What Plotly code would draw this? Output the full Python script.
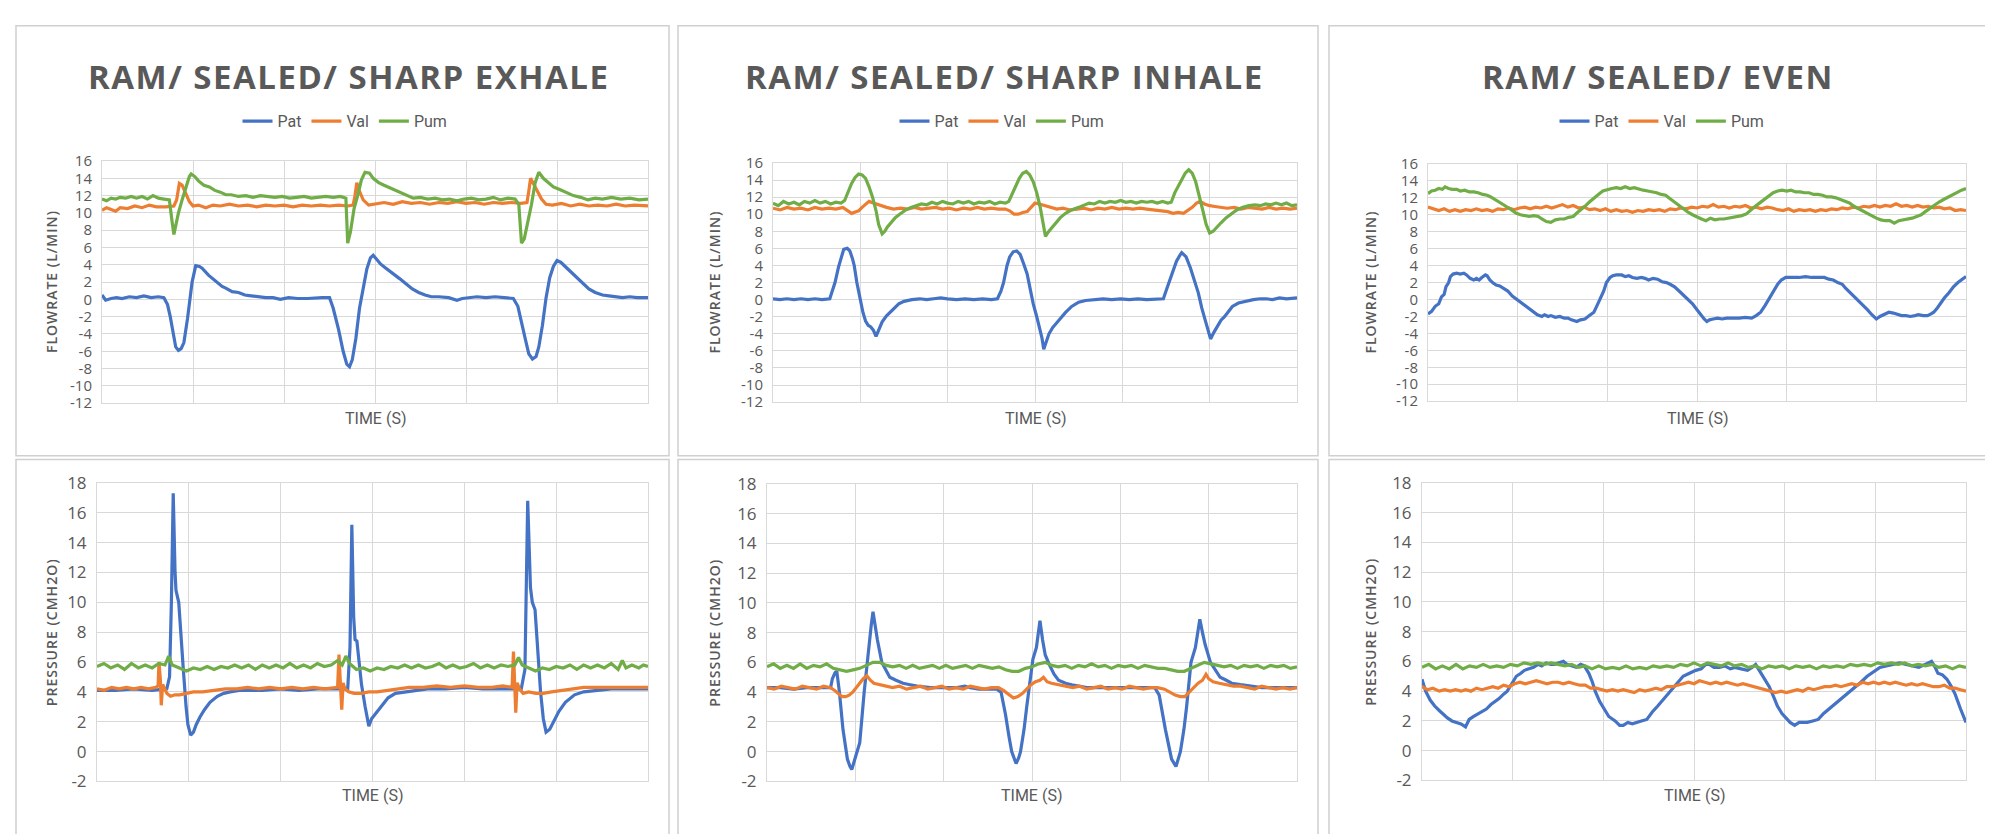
import plotly.graph_objects as go

# ---------------- data (time in grid units) ----------------
SERIES_NAMES = ["Pat", "Val", "Pum"]
SERIES_COLORS = ["#4472C4", "#ED7D31", "#70AD47"]
TITLES = ["RAM/ SEALED/ SHARP EXHALE", "RAM/ SEALED/ SHARP INHALE", "RAM/ SEALED/ EVEN"]
FLOW_TICKS = list(range(-12, 17, 2))
PRES_TICKS = list(range(-2, 19, 2))

# --- Sharp exhale: flow ---
PAT_F1 = [(0,0.5),(0.04,-0.1),(0.1,0.1),(0.16,0.2),(0.22,0.1),(0.3,0.3),(0.38,0.2),(0.46,0.4),(0.54,0.2),(0.62,0.3),(0.68,0.2),(0.72,-0.6),(0.75,-2.0),(0.78,-4.0),(0.81,-5.5),(0.84,-5.9),(0.87,-5.7),(0.9,-5.0),(0.94,-2.2),(0.99,2.0),(1.03,3.9),(1.07,3.8),(1.1,3.6),(1.17,2.8),(1.22,2.4),(1.27,2.0),(1.32,1.5),(1.36,1.3),(1.43,0.9),(1.5,0.8),(1.57,0.5),(1.64,0.4),(1.72,0.3),(1.8,0.2),(1.88,0.2),(1.96,0.0),(2.05,0.2),(2.15,0.1),(2.26,0.1),(2.35,0.2),(2.42,0.2),(2.5,0.2),(2.54,-1.0),(2.6,-3.5),(2.65,-6.0),(2.69,-7.5),(2.72,-7.8),(2.75,-7.0),(2.79,-4.5),(2.83,-1.0),(2.87,1.5),(2.91,3.5),(2.95,4.8),(2.98,5.1),(3.02,4.6),(3.06,4.1),(3.12,3.6),(3.2,3.0),(3.27,2.4),(3.34,1.8),(3.41,1.2),(3.48,0.8),(3.55,0.5),(3.62,0.3),(3.7,0.3),(3.81,0.2),(3.9,-0.1),(3.96,0.1),(4.03,0.2),(4.12,0.3),(4.22,0.2),(4.32,0.3),(4.42,0.2),(4.52,0.1),(4.57,-0.8),(4.61,-2.5),(4.65,-4.5),(4.69,-6.3),(4.73,-6.9),(4.77,-6.6),(4.8,-5.5),(4.84,-3.0),(4.88,0.2),(4.92,2.5),(4.96,3.8),(5.0,4.5),(5.04,4.3),(5.09,3.8),(5.15,3.2),(5.21,2.5),(5.28,1.8),(5.35,1.2),(5.42,0.8),(5.5,0.5),(5.57,0.4),(5.64,0.3),(5.72,0.2),(5.8,0.3),(5.88,0.2),(6.0,0.2)]
VAL_F1 = [(0,10.3),(0.05,10.6),(0.1,10.4),(0.15,10.2),(0.2,10.6),(0.28,10.5),(0.36,10.8),(0.44,10.6),(0.52,10.9),(0.6,10.7),(0.7,10.7),(0.79,10.8),(0.82,11.5),(0.85,13.4),(0.88,13.2),(0.92,12.2),(0.96,11.3),(1.0,10.8),(1.06,10.9),(1.14,10.6),(1.22,10.9),(1.3,10.8),(1.4,11.0),(1.5,10.8),(1.6,10.9),(1.7,10.7),(1.8,10.9),(1.9,10.8),(2.0,10.9),(2.1,10.7),(2.2,10.9),(2.3,10.8),(2.4,10.9),(2.5,10.8),(2.6,10.9),(2.7,10.8),(2.76,10.9),(2.78,12.0),(2.8,13.5),(2.83,12.5),(2.87,11.5),(2.93,10.9),(3.0,11.0),(3.1,11.2),(3.2,11.0),(3.3,11.3),(3.4,11.1),(3.5,11.2),(3.6,11.0),(3.7,11.2),(3.8,11.1),(3.9,11.3),(4.0,11.1),(4.1,11.2),(4.2,11.0),(4.3,11.2),(4.4,11.1),(4.5,11.2),(4.6,11.1),(4.67,11.2),(4.69,12.5),(4.71,14.0),(4.74,13.4),(4.78,12.6),(4.83,11.6),(4.88,11.0),(4.95,10.9),(5.05,11.1),(5.15,10.8),(5.25,11.0),(5.35,10.8),(5.45,10.9),(5.55,10.8),(5.65,11.0),(5.75,10.8),(5.85,10.9),(6.0,10.8)]
PUM_F1 = [(0,11.6),(0.05,11.4),(0.1,11.7),(0.15,11.6),(0.2,11.8),(0.26,11.7),(0.32,11.9),(0.38,11.7),(0.44,11.9),(0.5,11.6),(0.56,12.0),(0.62,11.7),(0.68,11.6),(0.74,11.5),(0.77,9.0),(0.79,7.5),(0.81,8.5),(0.84,10.0),(0.88,11.5),(0.92,12.8),(0.96,14.2),(0.98,14.5),(1.02,14.2),(1.06,13.7),(1.12,13.2),(1.18,13.0),(1.24,12.6),(1.3,12.4),(1.36,12.1),(1.42,12.1),(1.5,11.9),(1.58,12.0),(1.66,11.8),(1.74,12.0),(1.82,11.9),(1.9,11.8),(1.98,11.9),(2.06,11.7),(2.14,11.8),(2.22,11.9),(2.3,11.7),(2.38,11.8),(2.46,11.9),(2.54,11.8),(2.62,11.9),(2.68,11.7),(2.7,6.5),(2.73,7.8),(2.77,10.5),(2.81,12.0),(2.85,13.8),(2.89,14.7),(2.94,14.6),(2.98,14.0),(3.04,13.5),(3.1,13.2),(3.18,12.8),(3.26,12.4),(3.34,12.0),(3.42,11.7),(3.5,11.8),(3.58,11.6),(3.66,11.7),(3.74,11.5),(3.82,11.6),(3.9,11.4),(3.98,11.6),(4.06,11.7),(4.14,11.5),(4.22,11.6),(4.3,11.8),(4.38,11.5),(4.46,11.7),(4.54,11.6),(4.58,11.0),(4.61,6.5),(4.64,7.0),(4.68,9.0),(4.72,11.0),(4.76,13.5),(4.8,14.7),(4.85,14.0),(4.9,13.5),(4.96,13.0),(5.03,12.7),(5.1,12.4),(5.18,12.0),(5.26,11.8),(5.34,11.5),(5.42,11.7),(5.5,11.6),(5.6,11.8),(5.7,11.6),(5.8,11.7),(5.9,11.5),(6.0,11.6)]

# --- Sharp exhale: pressure ---
PAT_P1 = [(0,4.1),(0.2,4.1),(0.4,4.2),(0.6,4.1),(0.76,4.2),(0.79,5.0),(0.81,10.0),(0.83,17.3),(0.85,12.0),(0.86,10.8),(0.89,10.0),(0.91,8.0),(0.94,5.5),(0.97,3.0),(0.99,1.8),(1.02,1.1),(1.05,1.3),(1.08,1.8),(1.12,2.3),(1.17,2.8),(1.23,3.3),(1.31,3.7),(1.38,3.9),(1.45,4.0),(1.55,4.1),(1.64,4.1),(1.8,4.1),(2.0,4.2),(2.2,4.1),(2.4,4.2),(2.6,4.2),(2.73,4.2),(2.755,7.0),(2.775,15.2),(2.795,9.0),(2.81,7.5),(2.83,7.4),(2.85,6.0),(2.88,4.5),(2.92,3.0),(2.96,1.7),(2.99,2.2),(3.04,2.6),(3.1,3.1),(3.17,3.6),(3.25,3.9),(3.35,4.0),(3.45,4.1),(3.6,4.2),(3.8,4.2),(4.0,4.3),(4.2,4.2),(4.4,4.2),(4.62,4.2),(4.66,5.5),(4.69,16.8),(4.72,11.0),(4.74,10.0),(4.77,9.5),(4.8,6.5),(4.83,4.0),(4.86,2.2),(4.89,1.3),(4.93,1.5),(4.97,2.0),(5.03,2.7),(5.1,3.3),(5.2,3.8),(5.3,4.0),(5.45,4.1),(5.6,4.2),(5.8,4.2),(6.0,4.2)]
VAL_P1 = [(0,4.2),(0.08,4.1),(0.16,4.3),(0.24,4.2),(0.32,4.3),(0.4,4.2),(0.48,4.3),(0.56,4.2),(0.64,4.3),(0.665,4.4),(0.675,6.0),(0.69,4.8),(0.7,3.1),(0.715,4.5),(0.73,4.3),(0.76,3.9),(0.8,3.7),(0.85,3.8),(0.9,3.8),(0.97,3.9),(1.05,4.0),(1.15,4.0),(1.27,4.1),(1.4,4.2),(1.52,4.2),(1.64,4.3),(1.76,4.2),(1.88,4.3),(2.0,4.2),(2.12,4.3),(2.24,4.2),(2.36,4.3),(2.48,4.2),(2.62,4.3),(2.635,6.5),(2.65,5.0),(2.665,2.8),(2.68,4.6),(2.7,4.2),(2.74,4.0),(2.8,3.9),(2.88,3.9),(2.96,4.0),(3.05,4.0),(3.15,4.1),(3.25,4.2),(3.4,4.3),(3.55,4.3),(3.7,4.4),(3.85,4.3),(4.0,4.4),(4.15,4.3),(4.3,4.3),(4.42,4.4),(4.52,4.3),(4.535,6.7),(4.55,4.5),(4.56,2.6),(4.575,4.6),(4.6,4.2),(4.64,3.9),(4.7,4.0),(4.78,3.9),(4.86,3.9),(4.95,4.0),(5.05,4.1),(5.15,4.2),(5.3,4.3),(5.45,4.3),(5.6,4.3),(5.75,4.3),(5.9,4.3),(6.0,4.3)]
PUM_P1 = [(0,5.7),(0.075,5.9),(0.15,5.6),(0.225,5.8),(0.3,5.5),(0.375,5.9),(0.45,5.6),(0.525,5.8),(0.6,5.6),(0.675,5.9),(0.74,5.8),(0.78,6.4),(0.82,5.8),(0.9,5.6),(0.975,5.4),(1.05,5.6),(1.125,5.5),(1.2,5.7),(1.275,5.5),(1.35,5.7),(1.425,5.6),(1.5,5.8),(1.575,5.6),(1.65,5.8),(1.725,5.5),(1.8,5.8),(1.875,5.6),(1.95,5.8),(2.025,5.6),(2.1,5.9),(2.175,5.6),(2.25,5.8),(2.325,5.6),(2.4,5.9),(2.475,5.7),(2.55,5.8),(2.62,6.1),(2.67,5.8),(2.71,6.4),(2.75,5.9),(2.825,5.5),(2.9,5.6),(2.975,5.4),(3.05,5.6),(3.125,5.5),(3.2,5.7),(3.275,5.6),(3.35,5.8),(3.425,5.6),(3.5,5.8),(3.575,5.6),(3.65,5.7),(3.725,5.9),(3.8,5.6),(3.875,5.8),(3.95,5.6),(4.025,5.7),(4.1,5.9),(4.175,5.6),(4.25,5.8),(4.325,5.6),(4.4,5.8),(4.475,5.7),(4.55,5.8),(4.59,6.3),(4.63,5.8),(4.7,5.6),(4.775,5.4),(4.85,5.6),(4.925,5.5),(5.0,5.7),(5.075,5.6),(5.15,5.8),(5.225,5.5),(5.3,5.8),(5.375,5.6),(5.45,5.8),(5.525,5.6),(5.6,5.9),(5.675,5.5),(5.72,6.1),(5.76,5.6),(5.825,5.8),(5.9,5.6),(5.95,5.8),(6.0,5.7)]

# --- Sharp inhale: flow ---
PAT_F2 = [(0,0.1),(0.08,0.0),(0.16,0.1),(0.24,0.0),(0.32,0.1),(0.4,0.0),(0.48,0.1),(0.56,0.0),(0.65,0.1),(0.68,1.0),(0.71,2.0),(0.75,3.8),(0.78,5.0),(0.81,5.9),(0.85,6.0),(0.88,5.7),(0.91,4.8),(0.93,4.0),(0.96,2.0),(1.0,0.0),(1.03,-1.5),(1.06,-2.5),(1.09,-3.0),(1.12,-3.2),(1.15,-3.6),(1.18,-4.3),(1.21,-3.5),(1.25,-2.6),(1.3,-1.9),(1.34,-1.5),(1.39,-0.9),(1.44,-0.5),(1.5,-0.2),(1.59,0.0),(1.68,0.1),(1.76,0.0),(1.84,0.1),(1.92,0.2),(2.0,0.1),(2.1,0.0),(2.2,0.1),(2.3,0.0),(2.4,0.1),(2.5,0.0),(2.57,0.1),(2.61,1.0),(2.64,2.0),(2.68,4.0),(2.71,5.0),(2.75,5.6),(2.79,5.7),(2.83,5.3),(2.87,4.2),(2.91,3.0),(2.95,1.0),(2.98,-0.5),(3.02,-2.0),(3.06,-3.5),(3.08,-4.5),(3.1,-5.8),(3.13,-4.8),(3.16,-4.0),(3.2,-3.3),(3.25,-2.7),(3.3,-2.1),(3.35,-1.5),(3.42,-0.8),(3.5,-0.3),(3.58,-0.1),(3.69,0.0),(3.78,0.1),(3.88,0.0),(3.98,0.1),(4.08,0.0),(4.18,0.1),(4.28,0.0),(4.38,0.1),(4.47,0.1),(4.51,1.3),(4.55,2.5),(4.59,3.6),(4.62,4.5),(4.66,5.2),(4.68,5.5),(4.71,5.2),(4.73,5.0),(4.78,3.7),(4.82,2.5),(4.87,0.8),(4.91,-1.0),(4.95,-2.5),(4.98,-3.5),(5.01,-4.6),(5.05,-3.8),(5.09,-3.0),(5.13,-2.4),(5.17,-2.0),(5.22,-1.3),(5.26,-0.8),(5.33,-0.4),(5.41,-0.2),(5.5,0.0),(5.58,0.1),(5.65,0.1),(5.72,0.0),(5.8,0.2),(5.88,0.1),(6.0,0.2)]
VAL_F2 = [(0,10.7),(0.08,10.5),(0.16,10.8),(0.24,10.6),(0.32,10.7),(0.4,10.5),(0.48,10.8),(0.56,10.6),(0.64,10.7),(0.72,10.6),(0.8,10.8),(0.85,10.4),(0.9,10.1),(0.95,10.3),(0.98,10.4),(1.02,10.8),(1.06,11.2),(1.1,11.5),(1.15,11.3),(1.2,11.1),(1.25,11.0),(1.3,10.8),(1.38,10.6),(1.46,10.7),(1.54,10.6),(1.62,10.8),(1.7,10.6),(1.78,10.7),(1.86,10.8),(1.94,10.6),(2.02,10.7),(2.1,10.5),(2.18,10.7),(2.26,10.6),(2.34,10.8),(2.42,10.6),(2.5,10.7),(2.58,10.6),(2.66,10.6),(2.71,10.4),(2.76,10.0),(2.81,10.0),(2.86,10.2),(2.91,10.3),(2.96,10.8),(3.0,11.3),(3.05,11.2),(3.11,11.0),(3.18,10.8),(3.25,10.6),(3.32,10.7),(3.4,10.5),(3.48,10.6),(3.56,10.7),(3.64,10.5),(3.72,10.7),(3.8,10.6),(3.88,10.8),(3.96,10.6),(4.04,10.7),(4.12,10.6),(4.2,10.7),(4.28,10.6),(4.36,10.5),(4.44,10.4),(4.52,10.3),(4.58,10.1),(4.64,10.2),(4.7,10.1),(4.75,10.4),(4.8,10.8),(4.85,11.3),(4.89,11.5),(4.94,11.2),(5.0,11.0),(5.06,10.9),(5.12,10.8),(5.2,10.7),(5.28,10.8),(5.36,10.6),(5.44,10.8),(5.52,10.7),(5.6,10.6),(5.68,10.8),(5.76,10.6),(5.84,10.7),(5.92,10.6),(6.0,10.7)]
PUM_F2 = [(0,11.3),(0.06,11.0),(0.12,11.5),(0.18,11.2),(0.24,11.4),(0.3,11.1),(0.36,11.5),(0.42,11.3),(0.48,11.6),(0.54,11.3),(0.6,11.5),(0.66,11.2),(0.72,11.4),(0.78,11.3),(0.82,11.6),(0.86,12.6),(0.9,13.6),(0.94,14.3),(0.98,14.7),(1.02,14.6),(1.06,14.2),(1.1,13.2),(1.14,12.0),(1.18,10.4),(1.21,8.8),(1.25,7.7),(1.28,8.0),(1.31,8.5),(1.35,9.0),(1.4,9.6),(1.45,10.0),(1.52,10.5),(1.58,10.8),(1.64,11.0),(1.7,11.2),(1.76,11.1),(1.82,11.4),(1.88,11.2),(1.94,11.5),(2.0,11.3),(2.06,11.2),(2.12,11.5),(2.18,11.3),(2.24,11.5),(2.3,11.2),(2.36,11.4),(2.42,11.3),(2.48,11.5),(2.54,11.2),(2.6,11.4),(2.66,11.3),(2.7,11.5),(2.74,12.3),(2.78,13.3),(2.82,14.2),(2.86,14.8),(2.9,15.0),(2.94,14.6),(2.98,13.8),(3.02,12.5),(3.06,10.8),(3.09,8.8),(3.12,7.4),(3.15,7.9),(3.19,8.4),(3.24,9.0),(3.29,9.6),(3.35,10.1),(3.42,10.5),(3.5,10.8),(3.56,11.1),(3.62,11.3),(3.68,11.2),(3.74,11.5),(3.8,11.3),(3.86,11.5),(3.92,11.4),(3.98,11.6),(4.04,11.4),(4.1,11.5),(4.16,11.3),(4.22,11.5),(4.28,11.4),(4.34,11.5),(4.4,11.3),(4.46,11.5),(4.52,11.3),(4.56,11.4),(4.6,12.5),(4.64,13.3),(4.68,14.2),(4.72,14.8),(4.76,15.2),(4.8,14.8),(4.84,13.8),(4.88,12.3),(4.92,10.5),(4.96,8.8),(5.0,7.8),(5.04,8.0),(5.08,8.5),(5.13,9.0),(5.19,9.6),(5.25,10.1),(5.31,10.5),(5.38,10.8),(5.45,11.0),(5.52,11.1),(5.58,11.0),(5.64,11.2),(5.7,11.1),(5.76,11.3),(5.82,11.1),(5.88,11.3),(5.94,11.0),(6.0,11.1)]

# --- Sharp inhale: pressure ---
PAT_P2 = [(0,4.3),(0.15,4.3),(0.3,4.2),(0.45,4.3),(0.6,4.3),(0.72,4.3),(0.74,4.9),(0.77,5.3),(0.79,5.4),(0.82,4.0),(0.86,1.5),(0.91,-0.5),(0.94,-1.0),(0.96,-1.2),(0.99,-0.6),(1.01,-0.2),(1.05,0.6),(1.1,4.0),(1.15,7.0),(1.18,8.5),(1.2,9.4),(1.22,8.5),(1.25,7.5),(1.3,6.0),(1.35,5.4),(1.39,5.0),(1.46,4.8),(1.54,4.6),(1.62,4.5),(1.7,4.4),(1.85,4.3),(2.0,4.3),(2.15,4.3),(2.24,4.4),(2.3,4.3),(2.4,4.2),(2.5,4.2),(2.6,4.2),(2.65,4.0),(2.7,2.5),(2.74,1.0),(2.77,0.0),(2.82,-0.8),(2.85,-0.4),(2.87,0.0),(2.91,1.5),(2.94,3.0),(2.98,5.0),(3.01,6.2),(3.05,7.0),(3.09,8.8),(3.12,7.5),(3.15,6.5),(3.2,5.8),(3.25,5.2),(3.3,4.8),(3.38,4.6),(3.45,4.5),(3.55,4.4),(3.62,4.3),(3.8,4.3),(4.0,4.3),(4.2,4.3),(4.39,4.3),(4.44,3.8),(4.51,1.5),(4.58,-0.5),(4.63,-1.0),(4.68,0.0),(4.72,1.5),(4.75,3.0),(4.8,6.0),(4.85,7.0),(4.88,8.0),(4.9,8.9),(4.93,8.0),(4.96,7.2),(5.02,6.0),(5.08,5.4),(5.13,5.0),(5.2,4.8),(5.26,4.6),(5.36,4.5),(5.46,4.4),(5.6,4.3),(5.8,4.3),(6.0,4.3)]
VAL_P2 = [(0,4.3),(0.08,4.2),(0.16,4.4),(0.24,4.3),(0.32,4.2),(0.4,4.4),(0.48,4.3),(0.56,4.2),(0.64,4.4),(0.72,4.3),(0.77,4.1),(0.81,3.9),(0.85,3.7),(0.89,3.7),(0.93,3.8),(0.97,4.0),(1.01,4.3),(1.05,4.6),(1.09,4.9),(1.13,5.1),(1.17,4.8),(1.21,4.6),(1.27,4.5),(1.34,4.4),(1.42,4.3),(1.5,4.4),(1.58,4.2),(1.66,4.3),(1.74,4.4),(1.82,4.2),(1.9,4.3),(1.98,4.4),(2.06,4.2),(2.14,4.3),(2.22,4.2),(2.3,4.4),(2.38,4.3),(2.46,4.2),(2.54,4.3),(2.62,4.3),(2.68,4.1),(2.74,3.8),(2.79,3.6),(2.84,3.7),(2.89,3.9),(2.94,4.2),(2.99,4.5),(3.04,4.7),(3.09,4.8),(3.13,5.0),(3.17,4.7),(3.22,4.6),(3.3,4.5),(3.38,4.4),(3.46,4.3),(3.54,4.4),(3.62,4.2),(3.7,4.3),(3.78,4.4),(3.86,4.2),(3.94,4.3),(4.02,4.2),(4.1,4.4),(4.18,4.3),(4.26,4.2),(4.34,4.3),(4.42,4.3),(4.5,4.2),(4.56,4.0),(4.62,3.8),(4.68,3.7),(4.73,3.7),(4.78,4.0),(4.83,4.3),(4.88,4.6),(4.93,4.8),(4.97,5.2),(5.0,4.9),(5.05,4.7),(5.12,4.6),(5.2,4.5),(5.28,4.4),(5.36,4.4),(5.44,4.3),(5.52,4.2),(5.6,4.4),(5.68,4.3),(5.76,4.2),(5.84,4.3),(5.92,4.2),(6.0,4.3)]
PUM_P2 = [(0,5.7),(0.075,5.9),(0.15,5.6),(0.225,5.8),(0.3,5.6),(0.375,5.9),(0.45,5.6),(0.525,5.8),(0.6,5.7),(0.675,5.9),(0.75,5.6),(0.825,5.5),(0.9,5.4),(0.975,5.5),(1.05,5.6),(1.125,5.8),(1.2,6.0),(1.275,6.0),(1.35,5.8),(1.425,5.7),(1.5,5.8),(1.575,5.6),(1.65,5.8),(1.725,5.6),(1.8,5.7),(1.875,5.8),(1.95,5.6),(2.025,5.8),(2.1,5.6),(2.175,5.7),(2.25,5.8),(2.325,5.6),(2.4,5.8),(2.475,5.7),(2.55,5.6),(2.625,5.7),(2.7,5.5),(2.775,5.4),(2.85,5.4),(2.925,5.6),(3.0,5.7),(3.075,5.9),(3.15,6.0),(3.225,5.8),(3.3,5.7),(3.375,5.8),(3.45,5.6),(3.525,5.8),(3.6,5.7),(3.675,5.9),(3.75,5.7),(3.825,5.8),(3.9,5.6),(3.975,5.8),(4.05,5.7),(4.125,5.8),(4.2,5.6),(4.275,5.8),(4.35,5.7),(4.425,5.6),(4.5,5.6),(4.575,5.5),(4.65,5.4),(4.725,5.4),(4.8,5.6),(4.875,5.8),(4.95,6.0),(5.025,5.9),(5.1,5.8),(5.175,5.7),(5.25,5.8),(5.325,5.6),(5.4,5.8),(5.475,5.7),(5.55,5.8),(5.625,5.6),(5.7,5.8),(5.775,5.7),(5.85,5.8),(5.925,5.6),(6.0,5.7)]

# --- Even: flow ---
PAT_F3 = [(0,-1.7),(0.04,-1.4),(0.08,-0.8),(0.12,-0.5),(0.15,0.3),(0.18,0.6),(0.2,1.5),(0.23,2.0),(0.25,2.7),(0.28,3.0),(0.32,3.1),(0.36,3.0),(0.4,3.1),(0.43,2.9),(0.47,2.5),(0.51,2.3),(0.54,2.5),(0.57,2.3),(0.6,2.6),(0.64,2.9),(0.66,2.8),(0.69,2.3),(0.72,2.0),(0.76,1.7),(0.8,1.6),(0.84,1.3),(0.89,1.0),(0.94,0.4),(0.99,0.0),(1.04,-0.4),(1.08,-0.7),(1.13,-1.1),(1.18,-1.5),(1.22,-1.8),(1.27,-2.0),(1.3,-1.8),(1.34,-2.0),(1.37,-1.9),(1.42,-2.1),(1.47,-2.0),(1.52,-2.2),(1.56,-2.2),(1.6,-2.4),(1.66,-2.6),(1.7,-2.4),(1.75,-2.3),(1.8,-1.9),(1.85,-1.5),(1.89,-0.6),(1.92,0.0),(1.96,1.0),(1.99,2.0),(2.03,2.6),(2.06,2.8),(2.1,2.9),(2.16,2.9),(2.2,2.7),(2.24,2.8),(2.28,2.6),(2.33,2.5),(2.38,2.6),(2.42,2.5),(2.46,2.3),(2.51,2.5),(2.56,2.4),(2.61,2.1),(2.66,2.0),(2.7,1.8),(2.75,1.5),(2.8,1.0),(2.85,0.5),(2.9,0.0),(2.95,-0.5),(3.0,-1.2),(3.04,-1.8),(3.08,-2.3),(3.11,-2.6),(3.14,-2.4),(3.18,-2.3),(3.23,-2.2),(3.28,-2.3),(3.33,-2.2),(3.4,-2.2),(3.47,-2.2),(3.54,-2.1),(3.61,-2.2),(3.66,-1.9),(3.71,-1.5),(3.76,-0.7),(3.8,0.0),(3.85,1.0),(3.9,1.8),(3.94,2.3),(3.99,2.6),(4.06,2.6),(4.14,2.6),(4.21,2.7),(4.28,2.6),(4.35,2.6),(4.42,2.6),(4.47,2.4),(4.52,2.3),(4.57,2.0),(4.62,1.8),(4.66,1.3),(4.71,0.8),(4.76,0.3),(4.81,-0.2),(4.86,-0.7),(4.9,-1.2),(4.95,-1.8),(5.0,-2.3),(5.04,-2.0),(5.09,-1.7),(5.14,-1.5),(5.19,-1.6),(5.24,-1.8),(5.28,-1.9),(5.33,-1.9),(5.38,-2.0),(5.43,-1.9),(5.47,-1.8),(5.52,-1.9),(5.57,-1.9),(5.61,-1.7),(5.64,-1.5),(5.68,-1.0),(5.71,-0.5),(5.76,0.2),(5.81,0.8),(5.86,1.5),(5.91,2.0),(5.95,2.3),(6.0,2.7)]
VAL_F3 = [(0,10.9),(0.06,10.7),(0.12,10.5),(0.18,10.7),(0.24,10.4),(0.3,10.6),(0.36,10.4),(0.42,10.6),(0.48,10.5),(0.54,10.7),(0.6,10.5),(0.66,10.6),(0.72,10.4),(0.78,10.7),(0.84,10.6),(0.9,10.8),(0.96,10.6),(1.02,10.8),(1.08,10.9),(1.14,10.7),(1.2,10.9),(1.26,10.8),(1.32,11.0),(1.38,10.8),(1.44,11.0),(1.5,11.2),(1.56,10.9),(1.62,11.1),(1.68,10.8),(1.74,10.9),(1.8,10.6),(1.86,10.7),(1.92,10.5),(1.98,10.7),(2.04,10.4),(2.1,10.6),(2.16,10.4),(2.22,10.5),(2.28,10.3),(2.34,10.5),(2.4,10.4),(2.46,10.6),(2.52,10.5),(2.58,10.6),(2.64,10.4),(2.7,10.7),(2.76,10.6),(2.82,10.8),(2.88,10.7),(2.94,10.9),(3.0,10.8),(3.06,11.0),(3.12,10.9),(3.18,11.2),(3.24,10.9),(3.3,11.0),(3.36,10.8),(3.42,11.0),(3.48,10.9),(3.54,11.1),(3.6,10.8),(3.66,10.9),(3.72,10.7),(3.78,10.9),(3.84,10.8),(3.9,10.6),(3.96,10.5),(4.02,10.7),(4.08,10.4),(4.14,10.6),(4.2,10.5),(4.26,10.6),(4.32,10.4),(4.38,10.6),(4.44,10.5),(4.5,10.7),(4.56,10.6),(4.62,10.8),(4.68,10.7),(4.74,10.9),(4.8,10.8),(4.86,11.0),(4.92,10.9),(4.98,11.1),(5.04,10.9),(5.1,11.1),(5.16,11.0),(5.22,11.3),(5.28,11.0),(5.34,11.1),(5.4,10.9),(5.46,11.1),(5.52,10.9),(5.58,11.0),(5.64,10.8),(5.7,10.9),(5.76,10.7),(5.82,10.8),(5.88,10.5),(5.94,10.6),(6.0,10.5)]
PUM_F3 = [(0,12.5),(0.04,12.8),(0.08,12.9),(0.12,13.1),(0.16,13.0),(0.19,13.3),(0.23,13.1),(0.27,13.0),(0.32,13.0),(0.36,12.8),(0.41,12.9),(0.46,12.7),(0.51,12.7),(0.56,12.6),(0.61,12.4),(0.66,12.3),(0.7,12.1),(0.75,11.8),(0.8,11.5),(0.85,11.2),(0.9,10.8),(0.94,10.5),(0.98,10.2),(1.03,10.0),(1.08,9.9),(1.13,9.8),(1.18,9.9),(1.23,9.8),(1.27,9.5),(1.32,9.2),(1.37,9.1),(1.42,9.4),(1.47,9.5),(1.52,9.5),(1.57,9.7),(1.62,9.8),(1.66,10.2),(1.71,10.6),(1.75,11.0),(1.8,11.5),(1.85,12.0),(1.9,12.4),(1.95,12.8),(2.0,13.0),(2.05,13.1),(2.1,13.2),(2.15,13.1),(2.2,13.3),(2.25,13.1),(2.3,13.2),(2.35,13.0),(2.4,12.9),(2.45,12.8),(2.5,12.7),(2.55,12.6),(2.6,12.4),(2.65,12.3),(2.7,11.9),(2.75,11.5),(2.8,11.1),(2.85,10.6),(2.9,10.3),(2.95,10.0),(3.0,9.7),(3.05,9.5),(3.1,9.3),(3.15,9.6),(3.2,9.4),(3.25,9.5),(3.3,9.5),(3.35,9.6),(3.4,9.7),(3.45,9.8),(3.5,9.9),(3.55,10.1),(3.6,10.6),(3.65,11.0),(3.7,11.4),(3.75,11.8),(3.8,12.3),(3.85,12.6),(3.9,12.8),(3.95,12.9),(4.0,12.8),(4.05,12.9),(4.1,12.7),(4.15,12.7),(4.2,12.6),(4.25,12.6),(4.3,12.4),(4.35,12.4),(4.4,12.3),(4.45,12.1),(4.5,12.1),(4.55,12.0),(4.6,11.8),(4.65,11.6),(4.7,11.4),(4.75,11.0),(4.8,10.7),(4.85,10.4),(4.9,10.1),(4.95,9.8),(5.0,9.6),(5.05,9.4),(5.1,9.3),(5.15,9.3),(5.2,9.0),(5.25,9.3),(5.3,9.4),(5.35,9.5),(5.4,9.6),(5.45,9.8),(5.5,10.0),(5.55,10.4),(5.6,10.8),(5.65,11.2),(5.7,11.5),(5.75,11.8),(5.8,12.1),(5.85,12.4),(5.9,12.6),(5.95,12.9),(6.0,13.1)]

# --- Even: pressure ---
PAT_P3 = [(0,4.8),(0.04,4.0),(0.09,3.4),(0.14,3.0),(0.19,2.7),(0.24,2.4),(0.28,2.2),(0.33,2.0),(0.38,1.9),(0.43,1.8),(0.48,1.6),(0.52,2.1),(0.57,2.3),(0.62,2.5),(0.67,2.7),(0.71,2.8),(0.76,3.1),(0.81,3.3),(0.85,3.5),(0.9,3.8),(0.94,4.0),(0.99,4.5),(1.04,5.0),(1.09,5.2),(1.13,5.4),(1.18,5.5),(1.23,5.6),(1.28,5.8),(1.32,5.7),(1.37,5.9),(1.42,5.8),(1.46,5.8),(1.51,5.9),(1.56,6.0),(1.6,5.8),(1.65,5.7),(1.7,5.6),(1.75,5.8),(1.79,5.7),(1.84,5.2),(1.88,4.6),(1.91,4.0),(1.96,3.3),(2.01,2.8),(2.06,2.3),(2.13,2.0),(2.18,1.7),(2.22,1.7),(2.27,1.9),(2.32,1.8),(2.36,1.9),(2.42,2.0),(2.48,2.1),(2.54,2.6),(2.6,3.0),(2.67,3.5),(2.74,4.0),(2.81,4.5),(2.88,5.0),(2.95,5.2),(3.02,5.4),(3.08,5.5),(3.13,5.8),(3.17,5.8),(3.22,5.6),(3.28,5.6),(3.34,5.7),(3.4,5.5),(3.45,5.6),(3.52,5.5),(3.59,5.4),(3.64,5.6),(3.68,5.8),(3.73,5.3),(3.78,4.8),(3.83,4.3),(3.88,3.6),(3.92,3.0),(3.97,2.5),(4.01,2.2),(4.06,1.9),(4.11,1.7),(4.16,1.9),(4.21,1.9),(4.25,1.9),(4.31,2.0),(4.37,2.1),(4.43,2.5),(4.49,2.8),(4.56,3.2),(4.63,3.5),(4.7,3.9),(4.77,4.2),(4.84,4.6),(4.91,5.0),(4.98,5.3),(5.05,5.6),(5.12,5.7),(5.2,5.8),(5.27,5.9),(5.34,5.8),(5.41,5.7),(5.48,5.6),(5.55,5.8),(5.62,6.0),(5.66,5.6),(5.69,5.2),(5.74,5.1),(5.79,4.8),(5.84,4.3),(5.88,3.8),(5.94,2.8),(6.0,1.9)]
VAL_P3 = [(0,4.3),(0.06,4.1),(0.12,4.2),(0.19,4.0),(0.25,4.1),(0.31,4.0),(0.37,4.1),(0.43,4.0),(0.48,4.1),(0.54,4.0),(0.6,4.2),(0.66,4.1),(0.72,4.2),(0.78,4.3),(0.84,4.2),(0.9,4.4),(0.96,4.3),(1.02,4.5),(1.08,4.6),(1.14,4.5),(1.2,4.6),(1.26,4.7),(1.32,4.6),(1.38,4.5),(1.44,4.6),(1.5,4.6),(1.56,4.5),(1.62,4.6),(1.68,4.5),(1.74,4.4),(1.8,4.4),(1.86,4.2),(1.92,4.2),(1.98,4.1),(2.04,4.0),(2.1,4.1),(2.16,4.0),(2.22,4.1),(2.28,4.0),(2.34,3.9),(2.4,4.1),(2.46,4.0),(2.52,4.1),(2.58,4.2),(2.64,4.1),(2.7,4.3),(2.76,4.3),(2.82,4.4),(2.88,4.5),(2.94,4.6),(3.0,4.5),(3.06,4.7),(3.12,4.6),(3.18,4.5),(3.24,4.6),(3.3,4.5),(3.36,4.6),(3.42,4.5),(3.48,4.4),(3.54,4.5),(3.6,4.4),(3.66,4.3),(3.72,4.2),(3.78,4.1),(3.84,4.0),(3.9,3.9),(3.96,4.0),(4.02,3.9),(4.08,4.0),(4.14,4.1),(4.2,4.0),(4.26,4.2),(4.32,4.1),(4.38,4.2),(4.44,4.3),(4.5,4.3),(4.56,4.4),(4.62,4.3),(4.68,4.4),(4.74,4.5),(4.8,4.4),(4.86,4.6),(4.92,4.5),(4.98,4.6),(5.04,4.5),(5.1,4.6),(5.16,4.5),(5.22,4.6),(5.28,4.5),(5.34,4.4),(5.4,4.5),(5.46,4.4),(5.52,4.5),(5.58,4.4),(5.64,4.3),(5.7,4.3),(5.76,4.4),(5.82,4.2),(5.88,4.2),(5.94,4.1),(6.0,4.0)]
PUM_P3 = [(0,5.6),(0.075,5.8),(0.15,5.5),(0.225,5.7),(0.3,5.5),(0.375,5.8),(0.45,5.5),(0.525,5.7),(0.6,5.6),(0.675,5.8),(0.75,5.6),(0.825,5.7),(0.9,5.6),(0.975,5.8),(1.05,5.7),(1.125,5.9),(1.2,5.8),(1.275,5.9),(1.35,5.8),(1.425,5.9),(1.5,5.8),(1.575,5.7),(1.65,5.8),(1.725,5.6),(1.8,5.7),(1.875,5.5),(1.95,5.7),(2.025,5.5),(2.1,5.6),(2.175,5.5),(2.25,5.7),(2.325,5.5),(2.4,5.6),(2.475,5.5),(2.55,5.7),(2.625,5.6),(2.7,5.7),(2.775,5.6),(2.85,5.8),(2.925,5.7),(3.0,5.9),(3.075,5.7),(3.15,5.9),(3.225,5.8),(3.3,5.7),(3.375,5.9),(3.45,5.7),(3.525,5.8),(3.6,5.6),(3.675,5.7),(3.75,5.5),(3.825,5.7),(3.9,5.6),(3.975,5.7),(4.05,5.5),(4.125,5.7),(4.2,5.6),(4.275,5.7),(4.35,5.5),(4.425,5.7),(4.5,5.6),(4.575,5.7),(4.65,5.6),(4.725,5.8),(4.8,5.7),(4.875,5.8),(4.95,5.7),(5.025,5.9),(5.1,5.8),(5.175,5.9),(5.25,5.8),(5.325,5.9),(5.4,5.7),(5.475,5.8),(5.55,5.7),(5.625,5.8),(5.7,5.6),(5.775,5.7),(5.85,5.5),(5.925,5.7),(6.0,5.6)]

FLOW_DATA = [[PAT_F1, VAL_F1, PUM_F1], [PAT_F2, VAL_F2, PUM_F2], [PAT_F3, VAL_F3, PUM_F3]]
PRES_DATA = [[PAT_P1, VAL_P1, PUM_P1], [PAT_P2, VAL_P2, PUM_P2], [PAT_P3, VAL_P3, PUM_P3]]

# ---------------- layout (pixels) ----------------
W, H = 1993, 834
GRID = "#d9d9d9"
TXT = "#595959"
NARROW = "Liberation Sans Narrow, Roboto, Open Sans, sans-serif"

PANEL_X = [(8, 661), (670, 1310), (1321, 1982)]
TOP_ROW_Y = (6, 448)
BOT_ROW_Y = (452, 840)
FLOW_PLOT_X = [(94, 640), (765, 1289), (1420, 1958)]
FLOW_PLOT_Y = [(145, 394), (147, 393), (148, 392)]
PRES_PLOT_X = [(89, 640), (759, 1289), (1414, 1958)]
PRES_PLOT_Y = [(476, 783), (477, 783), (476, 782)]
YTITLE_X = [43, 707, 1363]
TITLE_X = [340, 996, 1650]
TITLE_Y = 58
LEGEND_X = [337, 994, 1654]
LEGEND_Y = 104
LINE_W = 3.2


def px(x):
    return x / W


def py(y):
    return 1 - y / H


fig = go.Figure()
legend_ids = ["legend", "legend2", "legend3"]

for i in range(3):
    for row in range(2):
        k = i + 1 + 3 * row
        data = FLOW_DATA[i] if row == 0 else PRES_DATA[i]
        for s in range(3):
            pts = data[s]
            fig.add_trace(go.Scatter(
                x=[p[0] for p in pts], y=[p[1] for p in pts],
                mode="lines", name=SERIES_NAMES[s],
                line=dict(color=SERIES_COLORS[s], width=LINE_W),
                xaxis="x" if k == 1 else f"x{k}", yaxis="y" if k == 1 else f"y{k}",
                showlegend=(row == 0), legend=legend_ids[i],
                hoverinfo="skip"))

axis_common = dict(showgrid=True, gridcolor=GRID, gridwidth=1, zeroline=False,
                   showline=True, linecolor=GRID, linewidth=1, mirror=True, ticks="")
layout = dict(width=W, height=H, margin=dict(l=0, r=0, t=0, b=0),
              paper_bgcolor="white", plot_bgcolor="white", showlegend=True)

for i in range(3):
    for row in range(2):
        k = i + 1 + 3 * row
        xs = FLOW_PLOT_X[i] if row == 0 else PRES_PLOT_X[i]
        ys = FLOW_PLOT_Y[i] if row == 0 else PRES_PLOT_Y[i]
        xa = "xaxis" if k == 1 else f"xaxis{k}"
        ya = "yaxis" if k == 1 else f"yaxis{k}"
        ticks = FLOW_TICKS if row == 0 else PRES_TICKS
        layout[xa] = dict(domain=[px(xs[0]), px(xs[1])], range=[0, 6], dtick=1, tick0=0,
                          showticklabels=False, anchor="y" if k == 1 else f"y{k}", **axis_common)
        layout[ya] = dict(domain=[py(ys[1]), py(ys[0])], range=[ticks[0], ticks[-1]],
                          tickvals=ticks, ticktext=[str(t) for t in ticks],
                          tickfont=dict(family="Open Sans", size=15 if row == 0 else 17, color=TXT),
                          ticklabelstandoff=6,
                          anchor="x" if k == 1 else f"x{k}", **axis_common)

for i in range(3):
    lid = legend_ids[i]
    layout[lid] = dict(orientation="h", x=px(LEGEND_X[i]), y=py(LEGEND_Y), xanchor="center",
                       yanchor="middle", bgcolor="rgba(0,0,0,0)",
                       font=dict(family=NARROW, size=16, color=TXT), itemwidth=30,
                       tracegroupgap=0)

fig.update_layout(**layout)

shapes = []
for (x0, x1) in PANEL_X:
    for (y0, y1) in (TOP_ROW_Y, BOT_ROW_Y):
        shapes.append(dict(type="rect", xref="paper", yref="paper",
                           x0=px(x0), x1=px(x1), y0=py(y1), y1=py(y0),
                           line=dict(color="#d0d0d0", width=1.5), fillcolor="rgba(0,0,0,0)", layer="below"))

annotations = []
for i in range(3):
    annotations.append(dict(xref="paper", yref="paper", x=px(TITLE_X[i]), y=py(TITLE_Y),
                            xanchor="center", yanchor="middle", showarrow=False,
                            text=f'<span style="letter-spacing:1.5px">{TITLES[i]}</span>',
                            font=dict(family="Open Sans", size=33, color=TXT, weight="bold")))
    for row in range(2):
        xs = FLOW_PLOT_X[i] if row == 0 else PRES_PLOT_X[i]
        ys = FLOW_PLOT_Y[i] if row == 0 else PRES_PLOT_Y[i]
        label = "FLOWRATE (L/MIN)" if row == 0 else "PRESSURE (CMH2O)"
        annotations.append(dict(xref="paper", yref="paper", x=px(YTITLE_X[i]), y=py((ys[0] + ys[1]) / 2),
                                xanchor="center", yanchor="middle", showarrow=False, textangle=-90,
                                text=f'<span style="letter-spacing:1px">{label}</span>',
                                font=dict(family="Open Sans", size=14, color=TXT, weight=600)))
        ty = 410 if row == 0 else 798
        annotations.append(dict(xref="paper", yref="paper", x=px((xs[0] + xs[1]) / 2), y=py(ty),
                                xanchor="center", yanchor="middle", showarrow=False,
                                text="TIME (S)", font=dict(family=NARROW, size=16, color=TXT)))

fig.update_layout(shapes=shapes, annotations=annotations)
fig.write_html("out.html")
